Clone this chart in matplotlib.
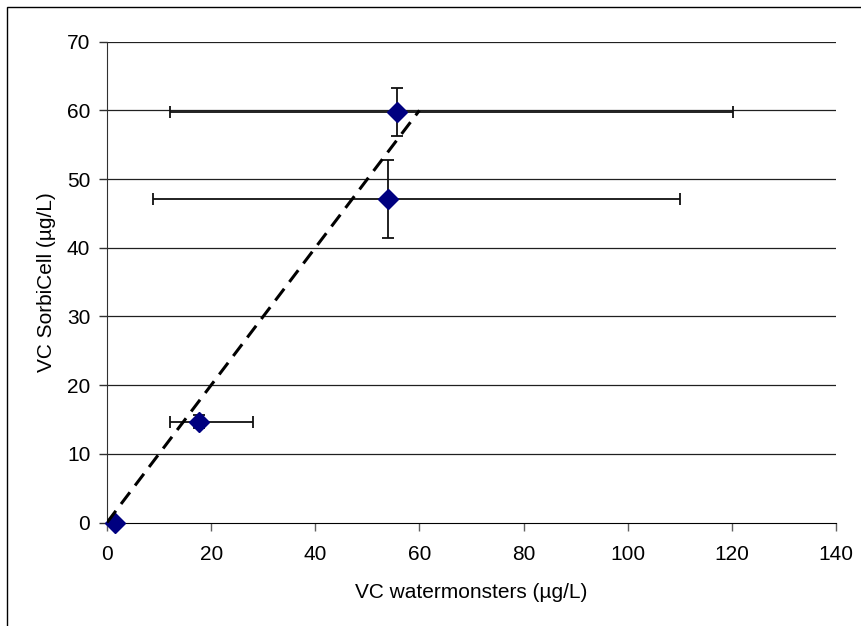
import matplotlib
matplotlib.use("Agg")
import matplotlib.pyplot as plt
from matplotlib.patches import Rectangle

plt.rcParams['font.family'] = ['Liberation Sans', 'DejaVu Sans']

# Data
x_vals = [1.5, 17.7, 53.9, 55.6]
y_vals = [0.0, 14.7, 47.1, 59.7]
x_err_low = [0.0, 5.6, 45.1, 43.5]
x_err_high = [0.0, 10.3, 56.1, 64.6]
y_err = [0.0, 1.0, 5.7, 3.5]
line_x = [0, 60]
line_y = [0, 60]
x_ticks = [0, 20, 40, 60, 80, 100, 120, 140]
y_ticks = [0, 10, 20, 30, 40, 50, 60, 70]

fig = plt.figure(figsize=(8.61, 6.26), dpi=100)
ax = fig.add_axes([107/861, (626-522.5)/626, (836-107)/861, (522.5-41.7)/626])

# outer frame
fig.patches.append(Rectangle((7/861, -0.1), 1.2, (626-7)/626 + 0.1, transform=fig.transFigure,
                             fill=False, edgecolor='black', linewidth=1.0))

for yt in y_ticks[1:]:
    ax.axhline(yt, color='#202020', linewidth=0.9, zorder=1)

ax.plot(line_x, line_y, color='black', linewidth=2.2, dashes=(4.8, 2.8), zorder=4)

ax.errorbar(x_vals, y_vals, xerr=[x_err_low, x_err_high], yerr=y_err,
            fmt='D', color='#000080', markersize=10.5, markeredgecolor='#000080',
            ecolor='#101010', elinewidth=1.3, capsize=4.5, capthick=1.3, zorder=3,
            clip_on=False)

ax.set_xlim(0, 140)
ax.set_ylim(0, 70)
ax.set_xticks(x_ticks)
ax.set_yticks(y_ticks)
ax.tick_params(axis='both', labelsize=15, direction='out', length=6, width=1,
               color='#606060')
ax.tick_params(axis='x', pad=10)
ax.tick_params(axis='y', color='#303030', pad=6)

for s in ['top', 'right']:
    ax.spines[s].set_visible(False)
ax.spines['left'].set_color('#303030')
ax.spines['bottom'].set_color('black')

ax.set_xlabel('VC watermonsters (µg/L)', fontsize=15)
ax.set_ylabel('VC SorbiCell (µg/L)', fontsize=15)
ax.xaxis.set_label_coords(0.5, (522.5-583)/480.8)
ax.yaxis.set_label_coords((56-107)/729, 0.5)

fig.savefig('out.png', dpi=100)
